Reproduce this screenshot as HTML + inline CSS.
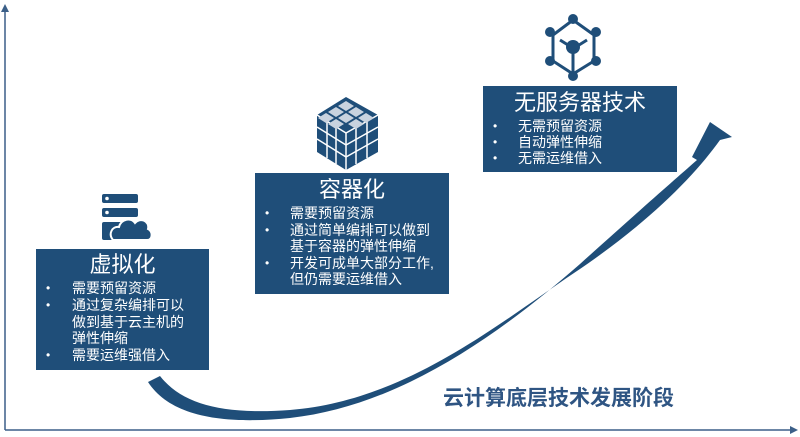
<!DOCTYPE html>
<html><head><meta charset="utf-8"><style>
body{margin:0;width:800px;height:437px;background:#fff;position:relative;overflow:hidden;font-family:"Liberation Sans","Noto Sans CJK SC",sans-serif}
.box{position:absolute;background:#1f4e79;color:#fff}
.t{position:absolute;font-size:22px;white-space:nowrap;line-height:22px}
.l{position:absolute;font-size:14px;white-space:nowrap;line-height:16px}
.b{position:absolute;font-size:12px;line-height:16px}
svg{position:absolute;left:0;top:0}
</style></head><body>
<svg width="800" height="437">
<line x1="5" y1="430" x2="793" y2="430" stroke="#3b5f88" stroke-width="1.5"/>
<polygon points="798,430 790,426 790,434" fill="#3b5f88"/>
<line x1="5" y1="430" x2="5" y2="10" stroke="#3b5f88" stroke-width="1.5"/>
<polygon points="5,4 1,12 9,12" fill="#3b5f88"/>
<path d="M148,382 C170,416 222,425 290,418 C400,406 500,334 580,264 C640,210 672,182 697,160 L692,157 L710,122 L732,137 L720,140 C695,175 650,222 574,273 C494,327 404,401 290,410 C222,415 182,404 160,376 Z" fill="#1f4e79"/>
<!-- server icon -->
<rect x="102" y="194" width="36" height="9" rx="2" fill="#1f4e79"/>
<rect x="102" y="208" width="36" height="9" rx="2" fill="#1f4e79"/>
<circle cx="107" cy="198.5" r="1.8" fill="#fff"/><circle cx="107" cy="212.5" r="1.8" fill="#fff"/>
<rect x="102" y="222" width="30" height="18" rx="2" fill="#1f4e79"/>
<path d="M113,240 C108,234 112,226 119,227 C121,219 131,217 135,223 C140,217 150,221 148,229 C153,231 153,240 147,240 Z" fill="#1f4e79" stroke="#fff" stroke-width="2"/>
<!-- cube -->
<polygon points="346,97 378,115 378,152 346,170 317,152 317,115" fill="#1f4e79"/>
<g stroke="#fff" stroke-width="1.5" fill="none">
<line x1="346" y1="133" x2="346" y2="170"/>
<line x1="346" y1="133" x2="317" y2="115"/><line x1="346" y1="133" x2="378" y2="115"/>
<line x1="327" y1="121" x2="327" y2="158"/><line x1="336" y1="127" x2="336" y2="164"/>
<line x1="317" y1="127" x2="346" y2="145"/><line x1="317" y1="139" x2="346" y2="157"/>
<line x1="356" y1="127" x2="356" y2="164"/><line x1="367" y1="121" x2="367" y2="158"/>
<line x1="346" y1="145" x2="378" y2="127"/><line x1="346" y1="157" x2="378" y2="139"/>
</g>
<g fill="#c9d3df">
<polygon points="346,101 354,106 346,111 338,106"/><polygon points="336,107 344,112 336,117 328,112"/><polygon points="356,107 364,112 356,117 348,112"/>
<polygon points="346,113 354,118 346,123 338,118"/><polygon points="326,113 334,118 326,123 318,118"/><polygon points="366,113 374,118 366,123 358,118"/>
<polygon points="336,119 344,124 336,129 328,124"/><polygon points="356,119 364,124 356,129 348,124"/>
</g>
<!-- network icon -->
<g stroke="#1f4e79" stroke-width="3" fill="none">
<polyline points="553,35 573,20 594,35"/>
<polyline points="553,61 573,74 594,61"/>
<line x1="553" y1="35" x2="553" y2="61"/><line x1="594" y1="35" x2="594" y2="61"/>
<line x1="573" y1="48" x2="573" y2="74"/>
<line x1="560" y1="40" x2="568" y2="45"/><line x1="587" y1="40" x2="579" y2="45"/>
</g>
<g fill="#1f4e79">
<circle cx="573" cy="19" r="5"/><circle cx="550" cy="32" r="5"/><circle cx="596" cy="32" r="5"/>
<circle cx="550" cy="61" r="5"/><circle cx="596" cy="61" r="5"/><circle cx="573" cy="76" r="5"/>
<circle cx="573" cy="47" r="7"/>
</g>
</svg>

<div class="box" style="left:36px;top:249px;width:173px;height:121px">
<div class="t" style="left:0;width:173px;text-align:center;top:5px">虚拟化</div>
<div class="b" style="left:10px;top:31px">•</div><div class="l" style="left:36px;top:31px">需要预留资源</div>
<div class="b" style="left:10px;top:48px">•</div><div class="l" style="left:36px;top:48px">通过复杂编排可以</div>
<div class="l" style="left:36px;top:64.5px">做到基于云主机的</div>
<div class="l" style="left:36px;top:81px">弹性伸缩</div>
<div class="b" style="left:10px;top:98px">•</div><div class="l" style="left:36px;top:98px">需要运维强借入</div>
</div>

<div class="box" style="left:255px;top:173px;width:194px;height:121px">
<div class="t" style="left:0;width:194px;text-align:center;top:6px">容器化</div>
<div class="b" style="left:10px;top:32px">•</div><div class="l" style="left:35px;top:32px">需要预留资源</div>
<div class="b" style="left:10px;top:49px">•</div><div class="l" style="left:35px;top:49px">通过简单编排可以做到</div>
<div class="l" style="left:35px;top:65px">基于容器的弹性伸缩</div>
<div class="b" style="left:10px;top:82px">•</div><div class="l" style="left:35px;top:82px">开发可成单大部分工作,</div>
<div class="l" style="left:35px;top:98px">但仍需要运维借入</div>
</div>

<div class="box" style="left:483px;top:86px;width:194px;height:86px">
<div class="t" style="left:0;width:194px;text-align:center;top:6px">无服务器技术</div>
<div class="b" style="left:10px;top:32px">•</div><div class="l" style="left:35px;top:32px">无需预留资源</div>
<div class="b" style="left:10px;top:48px">•</div><div class="l" style="left:35px;top:48px">自动弹性伸缩</div>
<div class="b" style="left:10px;top:64px">•</div><div class="l" style="left:35px;top:64px">无需运维借入</div>
</div>

<div style="position:absolute;left:443px;top:387px;font-size:21px;font-weight:bold;color:#2f5583;white-space:nowrap;line-height:24px">云计算底层技术发展阶段</div>
</body></html>
